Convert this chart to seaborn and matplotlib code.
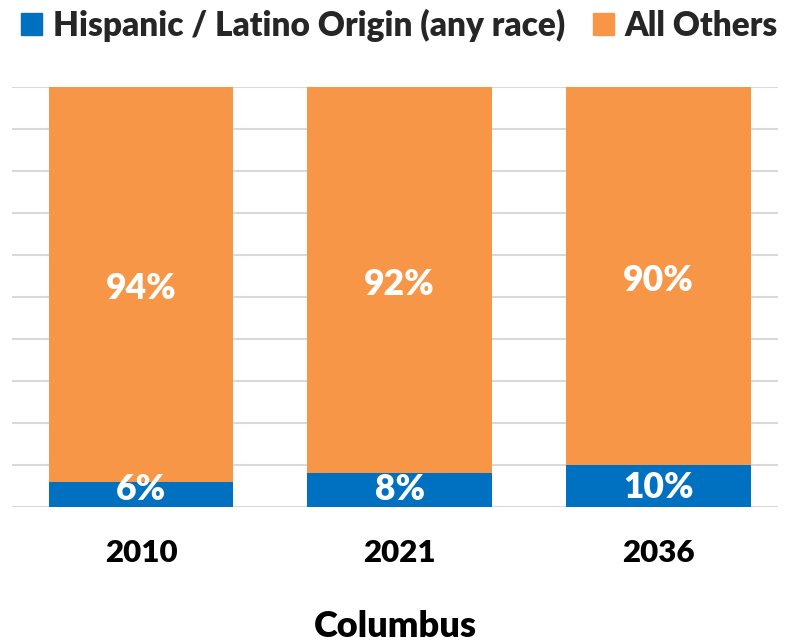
import matplotlib
matplotlib.use("Agg")
import matplotlib.pyplot as plt
import seaborn as sns
import pandas as pd
from matplotlib.patches import Patch

# valores do gráfico
anos = ["2010", "2021", "2036"]
hispanicos = [6, 8, 10]
outros = [94, 92, 90]
cidade = "Columbus"

cor_azul = "#0070C0"
cor_laranja = "#F79646"
peso = "heavy"

sns.set_theme(style="white")
plt.rcParams['font.family'] = ['Lato', 'DejaVu Sans']

df = pd.DataFrame({"ano": anos, "hisp": hispanicos, "outros": outros})
df["total"] = df["hisp"] + df["outros"]

fig = plt.figure(figsize=(7.99, 6.43), dpi=100)
ax = fig.add_axes([12 / 799, 1 - 507 / 643, 766 / 799, 420 / 643])

# barras empilhadas: total em laranja, hispânicos por cima em azul
sns.barplot(data=df, x="ano", y="total", color=cor_laranja, width=0.715,
            saturation=1, linewidth=0, ax=ax, zorder=3)
sns.barplot(data=df, x="ano", y="hisp", color=cor_azul, width=0.715,
            saturation=1, linewidth=0, ax=ax, zorder=4)

ax.set_ylim(0, 100)
ax.set_xlim(-0.4986, 2.462)
ax.set_yticks(range(0, 101, 10))
ax.set_yticklabels([])
ax.yaxis.grid(True, color="#D9D9D9", linewidth=1.5, zorder=0)
ax.tick_params(axis="both", length=0)
ax.tick_params(axis="x", pad=23)
for lado in ax.spines.values():
    lado.set_visible(False)

for lbl in ax.get_xticklabels():
    lbl.set_fontsize(22.5)
    lbl.set_fontweight(peso)
    lbl.set_color("black")

ax.set_ylabel("")
ax.set_xlabel(cidade, fontsize=26, fontweight=peso, color="black", labelpad=31)

# rótulos de porcentagem (o de baixo não desce abaixo de 4.5 para caber)
for i, row in df.iterrows():
    ax.text(i, row["hisp"] + row["outros"] / 2 - 1.0, f"{row['outros']}%",
            ha="center", va="center", color="white", fontsize=25.5,
            fontweight=peso, zorder=5)
    ax.text(i, max(row["hisp"] / 2, 4.5) - 0.35, f"{row['hisp']}%",
            ha="center", va="center", color="white", fontsize=25.5,
            fontweight=peso, zorder=5)

handles = [Patch(color=cor_azul, label="Hispanic / Latino Origin (any race)"),
           Patch(color=cor_laranja, label="All Others")]
leg = fig.legend(handles=handles, loc="upper center", bbox_to_anchor=(0.5, 1.033),
                 ncol=2, frameon=False, handlelength=0.62, handleheight=0.62,
                 handletextpad=0.32, columnspacing=0.84,
                 prop={"size": 24, "weight": peso})

fig.savefig("out.png", dpi=100)
